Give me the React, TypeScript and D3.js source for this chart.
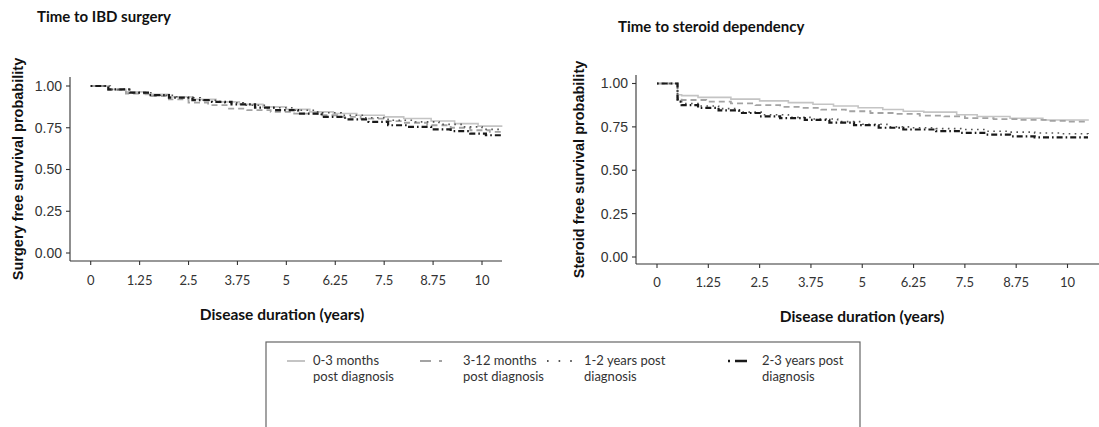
import React from "react";
import * as d3 from "d3";

// ---- Data ----
const seriesNames = ["0-3 months post diagnosis", "3-12 months post diagnosis", "1-2 years post diagnosis", "2-3 years post diagnosis"];
const legendLine1 = ["0-3 months", "3-12 months", "1-2 years post", "2-3 years post"];
const legendLine2 = ["post diagnosis", "post diagnosis", "diagnosis", "diagnosis"];
const xTicks = [0, 1.25, 2.5, 3.75, 5, 6.25, 7.5, 8.75, 10];
const yTicks = [0, 0.25, 0.5, 0.75, 1];
const yTickLabels = ["0.00", "0.25", "0.50", "0.75", "1.00"];

// Time to IBD surgery: [years, survival]
const surgery03: [number, number][] = [[0, 1], [0.45, 0.98], [0.9, 0.965], [1.4, 0.95], [2.0, 0.935], [2.6, 0.92], [3.2, 0.905], [3.8, 0.89], [4.4, 0.875], [5.0, 0.86], [5.6, 0.845], [6.2, 0.835], [6.8, 0.825], [7.5, 0.815], [8.0, 0.805], [8.7, 0.79], [9.3, 0.775], [9.9, 0.76], [10.5, 0.755]];
const surgery312: [number, number][] = [[0, 1], [0.45, 0.975], [0.9, 0.955], [1.5, 0.94], [2.0, 0.92], [2.5, 0.9], [3.0, 0.885], [3.5, 0.865], [4.0, 0.855], [4.6, 0.845], [5.2, 0.835], [5.8, 0.825], [6.3, 0.815], [6.9, 0.805], [7.5, 0.79], [8.0, 0.78], [8.6, 0.765], [9.2, 0.75], [9.7, 0.735], [10.2, 0.725], [10.5, 0.725]];
const surgery12: [number, number][] = [[0, 1], [0.5, 0.98], [1.0, 0.96], [1.6, 0.945], [2.2, 0.93], [2.8, 0.915], [3.3, 0.9], [3.9, 0.885], [4.5, 0.87], [5.2, 0.855], [5.8, 0.84], [6.4, 0.825], [7.0, 0.81], [7.6, 0.795], [8.3, 0.785], [8.9, 0.77], [9.5, 0.755], [10.0, 0.74], [10.5, 0.735]];
const surgery23: [number, number][] = [[0, 1], [0.45, 0.98], [1.0, 0.96], [1.5, 0.945], [2.0, 0.93], [2.6, 0.915], [3.1, 0.905], [3.6, 0.89], [4.2, 0.87], [4.7, 0.855], [5.3, 0.835], [5.9, 0.815], [6.5, 0.8], [7.1, 0.785], [7.6, 0.765], [8.1, 0.755], [8.7, 0.74], [9.2, 0.73], [9.7, 0.715], [10.1, 0.705], [10.5, 0.7]];

// Time to steroid dependency: [years, survival]
const steroid03: [number, number][] = [[0, 1], [0.5, 0.935], [0.6, 0.93], [1.0, 0.92], [1.8, 0.91], [2.5, 0.9], [3.2, 0.89], [3.8, 0.88], [4.3, 0.87], [4.9, 0.86], [5.5, 0.85], [6.0, 0.84], [6.5, 0.835], [7.3, 0.82], [7.8, 0.81], [8.6, 0.8], [9.4, 0.79], [10.5, 0.785]];
const steroid312: [number, number][] = [[0, 1], [0.5, 0.92], [0.6, 0.905], [1.2, 0.895], [1.8, 0.885], [2.4, 0.875], [3.0, 0.865], [3.5, 0.86], [4.0, 0.85], [4.6, 0.84], [5.2, 0.83], [5.8, 0.825], [6.4, 0.815], [7.0, 0.81], [7.5, 0.8], [8.2, 0.795], [8.8, 0.79], [9.5, 0.785], [10.0, 0.78], [10.5, 0.78]];
const steroid12: [number, number][] = [[0, 1], [0.5, 0.91], [0.6, 0.885], [1.0, 0.87], [1.5, 0.855], [2.0, 0.835], [2.6, 0.82], [3.2, 0.805], [3.8, 0.795], [4.4, 0.78], [5.0, 0.765], [5.6, 0.75], [6.2, 0.745], [6.8, 0.74], [7.4, 0.735], [8.0, 0.725], [8.6, 0.72], [9.2, 0.715], [9.8, 0.71], [10.5, 0.708]];
const steroid23: [number, number][] = [[0, 1], [0.5, 0.895], [0.6, 0.875], [1.0, 0.86], [1.5, 0.845], [2.0, 0.83], [2.5, 0.81], [3.0, 0.8], [3.6, 0.79], [4.2, 0.775], [4.8, 0.76], [5.4, 0.745], [6.0, 0.735], [6.8, 0.725], [7.4, 0.715], [8.0, 0.705], [8.6, 0.695], [9.2, 0.69], [10.5, 0.69]];

// ---- Styles ----
const lineStyles = [
  { stroke: "#c4c4c4", width: 1.6, dash: "", legendDash: "" },
  { stroke: "#a3a3a3", width: 1.8, dash: "6,4", legendDash: "11,8,3,20" },
  { stroke: "#555555", width: 1.6, dash: "1.6,4.4", legendDash: "1.6,10" },
  { stroke: "#1a1a1a", width: 2.2, dash: "1.6,3,6,3", legendDash: "2,5,12,20" },
];

const panels = [
  {
    title: "Time to IBD surgery", titleX: 37, titleY: 22,
    yTitle: "Surgery free survival probability", yTitleX: 18,
    series: [surgery03, surgery312, surgery12, surgery23],
    x0: 90.7, x10: 482, yTop: 86, yBottom: 253,
    axisX: 70, axisY: 261, axisTop: 77, axisRight: 502,
    xTitleX: 282, xTitleY: 320, xLabelY: 285,
  },
  {
    title: "Time to steroid dependency", titleX: 618, titleY: 32,
    yTitle: "Steroid free survival probability", yTitleX: 579,
    series: [steroid03, steroid312, steroid12, steroid23],
    x0: 657, x10: 1067.5, yTop: 83.5, yBottom: 257,
    axisX: 636, axisY: 264, axisTop: 75, axisRight: 1099,
    xTitleX: 862, xTitleY: 322, xLabelY: 287,
  },
];

const calibriLike = "Lato, 'Open Sans', sans-serif";
const arialLike = "'Liberation Sans', Arial, sans-serif";

function Panel({ p }: { p: (typeof panels)[number] }) {
  const x = d3.scaleLinear().domain([0, 10]).range([p.x0, p.x10]);
  const y = d3.scaleLinear().domain([0, 1]).range([p.yBottom, p.yTop]);
  const line = d3
    .line<[number, number]>()
    .x((d) => x(d[0]))
    .y((d) => y(d[1]))
    .curve(d3.curveStepAfter);
  const yMid = (p.axisTop + p.axisY) / 2;
  return (
    <g>
      <text x={p.titleX} y={p.titleY} fontFamily={calibriLike} fontWeight={700} fontSize={15} fill="#111">
        {p.title}
      </text>
      {/* axes */}
      <line x1={p.axisX} x2={p.axisX} y1={p.axisTop} y2={p.axisY} stroke="#333" strokeWidth={1.1} />
      <line x1={p.axisX} x2={p.axisRight} y1={p.axisY} y2={p.axisY} stroke="#333" strokeWidth={1.1} />
      {yTicks.map((t, i) => (
        <g key={"y" + i}>
          <line x1={p.axisX - 4} x2={p.axisX} y1={y(t)} y2={y(t)} stroke="#333" strokeWidth={1.1} />
          <text x={p.axisX - 8} y={y(t)} dy="0.35em" textAnchor="end" fontFamily={arialLike} fontSize={14} fill="#333">
            {yTickLabels[i]}
          </text>
        </g>
      ))}
      {xTicks.map((t, i) => (
        <g key={"x" + i}>
          <line x1={x(t)} x2={x(t)} y1={p.axisY} y2={p.axisY + 4} stroke="#333" strokeWidth={1.1} />
          <text x={x(t)} y={p.xLabelY} textAnchor="middle" fontFamily={calibriLike} fontSize={13} fill="#333">
            {String(t)}
          </text>
        </g>
      ))}
      <text x={p.xTitleX} y={p.xTitleY} textAnchor="middle" fontFamily={calibriLike} fontWeight={700} fontSize={15.5} fill="#111">
        Disease duration (years)
      </text>
      <text
        transform={`translate(${p.yTitleX},${yMid}) rotate(-90)`}
        textAnchor="middle"
        dy="0.35em"
        fontFamily={arialLike}
        fontWeight={700}
        fontSize={14.5}
        fill="#111"
      >
        {p.yTitle}
      </text>
      {p.series.map((s, i) => (
        <path
          key={"s" + i}
          d={line(s) || ""}
          fill="none"
          stroke={lineStyles[i].stroke}
          strokeWidth={lineStyles[i].width}
          strokeDasharray={lineStyles[i].dash || undefined}
        />
      ))}
    </g>
  );
}

const legendSymbolX = [287, 420, 547, 728];
const legendSymbolW = [18, 26, 25, 20];
const legendTextX = [313, 463, 584, 762];

export default function App() {
  return (
    <svg
      width={1099}
      height={427}
      viewBox="0 0 1099 427"
      style={{ position: "absolute", left: 0, top: 0, background: "#fff" }}
    >
      <rect x={0} y={0} width={1099} height={427} fill="#fff" />
      {panels.map((p, i) => (
        <Panel key={i} p={p} />
      ))}
      {/* legend */}
      <rect x={266} y={342} width={594} height={90} fill="none" stroke="#666" strokeWidth={1.2} />
      {seriesNames.map((name, i) => (
        <g key={name}>
          <line
            x1={legendSymbolX[i]}
            x2={legendSymbolX[i] + legendSymbolW[i]}
            y1={361}
            y2={361}
            stroke={lineStyles[i].stroke}
            strokeWidth={i === 3 ? 2.6 : 2}
            strokeDasharray={lineStyles[i].legendDash || undefined}
          />
          <text x={legendTextX[i]} y={365} fontFamily={calibriLike} fontSize={13} fill="#333">
            {legendLine1[i]}
          </text>
          <text x={legendTextX[i]} y={381} fontFamily={calibriLike} fontSize={13} fill="#333">
            {legendLine2[i]}
          </text>
        </g>
      ))}
    </svg>
  );
}
